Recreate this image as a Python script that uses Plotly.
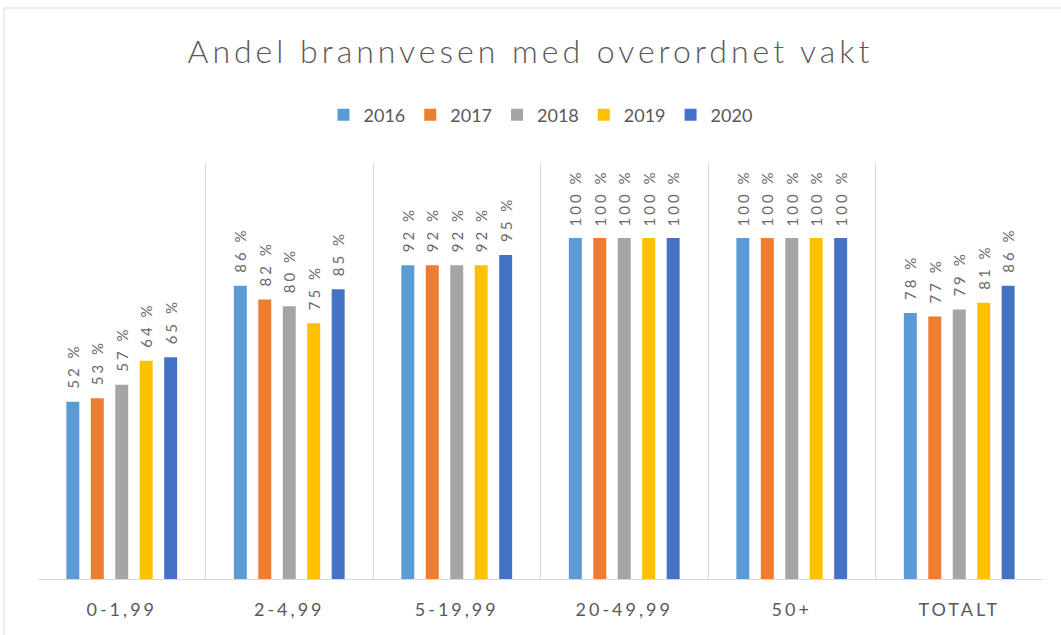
import plotly.graph_objects as go

categories = ["0-1,99", "2-4,99", "5-19,99", "20-49,99", "50+", "TOTALT"]
years = ["2016", "2017", "2018", "2019", "2020"]
values = {
    "2016": [52, 86, 92, 100, 100, 78],
    "2017": [53, 82, 92, 100, 100, 77],
    "2018": [57, 80, 92, 100, 100, 79],
    "2019": [64, 75, 92, 100, 100, 81],
    "2020": [65, 85, 95, 100, 100, 86],
}
colors = {
    "2016": "#5B9BD5",
    "2017": "#ED7D31",
    "2018": "#A5A5A5",
    "2019": "#FFC000",
    "2020": "#4472C4",
}
FONT = "Lato"
GREY = "#595959"

fig = go.Figure()
for y in years:
    fig.add_trace(go.Bar(
        name=y, x=categories, y=values[y],
        marker=dict(color=colors[y], line=dict(width=0)),
        text=[f"{v} %" for v in values[y]],
        textposition="outside", textangle=-90, constraintext="none",
        textfont=dict(family=FONT, size=15, color="#6b6b6b"),
        cliponaxis=False,
    ))

fig.update_layout(
    width=1061, height=635,
    margin=dict(l=38, r=18, t=163, b=56),
    paper_bgcolor="white", plot_bgcolor="white",
    barmode="group", bargap=0.27, bargroupgap=0.47,
    title=dict(text="Andel brannvesen med overordnet vakt",
               x=0.5, xanchor="center", y=1 - 52 / 635, yanchor="middle",
               font=dict(family=FONT, size=32, color=GREY, weight=300)),
    legend=dict(orientation="h", x=0.5, xanchor="center", y=(579 - 115) / 416, yanchor="middle",
                font=dict(family=FONT, size=18, color=GREY),
                itemwidth=30, traceorder="normal"),
    showlegend=True,
)
fig.update_xaxes(
    tickson="boundaries", showgrid=True, gridcolor="#D9D9D9", gridwidth=1,
    showline=True, linecolor="#D9D9D9", linewidth=1, mirror=False,
    ticks="", ticklabelstandoff=14,
    tickfont=dict(family=FONT, size=18, color=GREY),
)
fig.update_yaxes(range=[0, 122], visible=False, showgrid=False)

# outer frame of chart area
fig.add_shape(type="line", xref="paper", yref="paper",
              x0=(4 - 38) / 1005, x1=(1061 - 38) / 1005 + 0.05,
              y0=(579 - 8) / 416, y1=(579 - 8) / 416,
              line=dict(color="#D9D9D9", width=1))
fig.add_shape(type="line", xref="paper", yref="paper",
              x0=(4 - 38) / 1005, x1=(4 - 38) / 1005,
              y0=(579 - 8) / 416, y1=(579 - 640) / 416,
              line=dict(color="#D9D9D9", width=1))

post = """
document.body.style.margin='0';
var gd = document.getElementById('{plot_id}');
function fixText(){
  gd.querySelectorAll('.gtitle').forEach(function(e){e.style.letterSpacing='4px';});
  gd.querySelectorAll('.xtick text').forEach(function(e){e.style.letterSpacing='3px';});
  gd.querySelectorAll('text.bartext').forEach(function(e){
    e.style.letterSpacing='3px';
    if(!e.dataset.sh){
      e.setAttribute('transform',(e.getAttribute('transform')||'')+' translate(16,0)');
      e.dataset.sh='1';
    }
  });
}
fixText();
gd.on('plotly_afterplot', fixText);
"""

fig.write_html("out.html", post_script=post, config={"displayModeBar": False})
